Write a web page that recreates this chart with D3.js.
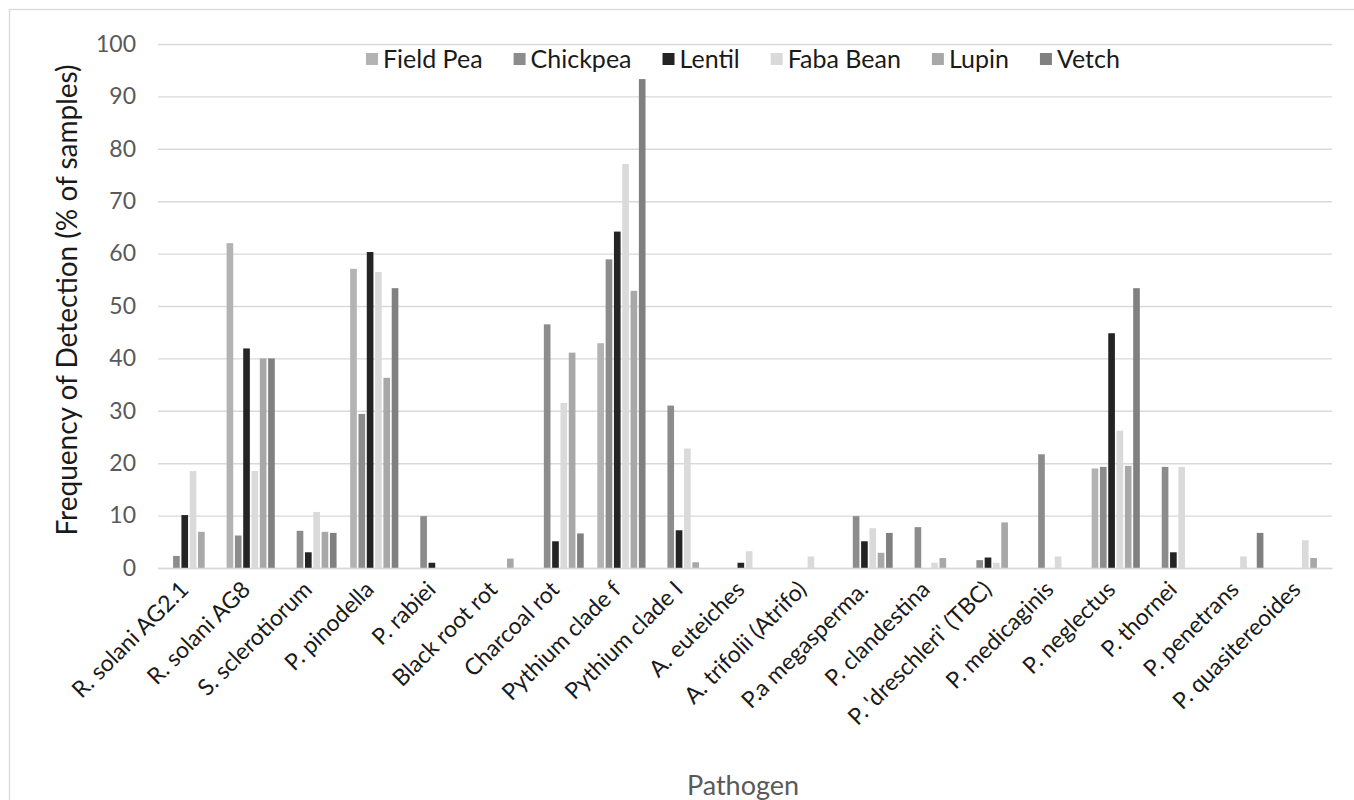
<!DOCTYPE html>
<html>
<head>
<meta charset="utf-8">
<script src="https://cdn.jsdelivr.net/npm/d3@7"></script>
<style>
  html, body { margin: 0; padding: 0; background: #ffffff; }
  svg { display: block; font-family: Lato, "Open Sans", sans-serif; }
</style>
</head>
<body>
<svg id="chart" width="1354" height="800"></svg>
<script>
// ---- data ----
const categories = [
  "R. solani AG2.1", "R. solani AG8", "S. sclerotiorum", "P. pinodella", "P. rabiei",
  "Black root rot", "Charcoal rot", "Pythium clade f", "Pythium clade I", "A. euteiches",
  "A. trifolii (Atrifo)", "P.a megasperma.", "P. clandestina", "P. 'dreschleri' (TBC)",
  "P. medicaginis", "P. neglectus", "P. thornei", "P. penetrans", "P. quasitereoides"
];
const seriesNames = ["Field Pea", "Chickpea", "Lentil", "Faba Bean", "Lupin", "Vetch"];
const fieldPea = [0, 62, 0, 57.1, 0, 0, 0, 42.9, 0, 0, 0, 0, 0, 0, 0, 19.0, 0, 0, 0];
const chickpea = [2.3, 6.2, 7.1, 29.4, 9.9, 0, 46.5, 58.9, 31.0, 0, 0, 9.9, 7.8, 1.5, 21.7, 19.3, 19.3, 0, 0];
const lentil   = [10.1, 41.9, 3.0, 60.3, 1.0, 0, 5.1, 64.2, 7.2, 1.0, 0, 5.1, 0, 2.0, 0, 44.8, 3.0, 0, 0];
const fabaBean = [18.5, 18.5, 10.7, 56.5, 0, 0, 31.5, 77.1, 22.8, 3.2, 2.2, 7.6, 1.0, 1.0, 2.2, 26.2, 19.3, 2.2, 5.3];
const lupin    = [6.9, 40.0, 6.9, 36.3, 0, 1.8, 41.1, 52.9, 1.1, 0, 0, 2.9, 1.9, 8.7, 0, 19.5, 0, 0, 1.9];
const vetch    = [0, 40.0, 6.7, 53.4, 0, 0, 6.6, 93.3, 0, 0, 0, 6.7, 0, 0, 0, 53.4, 0, 6.7, 0];
const yTicks = [0, 10, 20, 30, 40, 50, 60, 70, 80, 90, 100];
const seriesValues = [fieldPea, chickpea, lentil, fabaBean, lupin, vetch];
const seriesColors = ["#b3b3b3", "#8c8c8c", "#242424", "#dadada", "#a8a8a8", "#808080"];

// ---- layout ----
const svg = d3.select("#chart");
const plot = { left: 158, right: 1332, top: 44, bottom: 568 };

// chart border
svg.append("rect")
  .attr("x", 9.5).attr("y", 9.5)
  .attr("width", 1400).attr("height", 900)
  .attr("fill", "#fff").attr("stroke", "#d9d9d9").attr("stroke-width", 1.3);

const y = d3.scaleLinear().domain([0, 100]).range([plot.bottom, plot.top]);
const x0 = d3.scaleBand().domain(categories).range([plot.left, plot.right])
  .paddingInner(0.22).paddingOuter(0.11);
const x1 = d3.scaleBand().domain(seriesNames).range([0, x0.bandwidth()]).paddingInner(0.2);
const color = d3.scaleOrdinal().domain(seriesNames).range(seriesColors);

// gridlines + y tick labels
const yAxis = d3.axisLeft(y).tickValues(yTicks)
  .tickSize(-(plot.right - plot.left)).tickPadding(22);
const gy = svg.append("g").attr("transform", `translate(${plot.left},0)`).call(yAxis);
gy.select(".domain").remove();
gy.selectAll(".tick line").attr("stroke", "#d9d9d9").attr("stroke-width", 1.4);
gy.selectAll(".tick text")
  .attr("fill", "#595959").attr("font-size", 23).attr("font-family", "Lato, sans-serif");

// bars
const rows = categories.map((c, i) => ({ cat: c, vals: seriesNames.map((s, j) => ({ s, v: seriesValues[j][i] })) }));
const groups = svg.append("g").selectAll("g").data(rows).join("g")
  .attr("transform", d => `translate(${x0(d.cat)},0)`);
groups.selectAll("rect").data(d => d.vals.filter(e => e.v > 0)).join("rect")
  .attr("x", d => x1(d.s))
  .attr("width", x1.bandwidth())
  .attr("y", d => y(d.v))
  .attr("height", d => y(0) - y(d.v))
  .attr("fill", d => color(d.s));

// x axis baseline
const xAxis = d3.axisBottom(x0).tickSize(0).tickPadding(0);
const gx = svg.append("g").attr("transform", `translate(0,${plot.bottom})`).call(xAxis);
gx.select(".domain").attr("stroke", "#d9d9d9").attr("stroke-width", 1.4);
gx.selectAll(".tick text")
  .attr("text-anchor", "end")
  .attr("fill", "#1a1a1a")
  .attr("font-size", 23)
  .attr("font-family", "Lato, sans-serif")
  .attr("dy", null).attr("y", null)
  .attr("transform", "translate(1,23) rotate(-45)");

// axis titles
svg.append("text")
  .attr("transform", "translate(77,300) rotate(-90)")
  .attr("text-anchor", "middle")
  .attr("fill", "#1a1a1a").attr("font-size", 28)
  .text("Frequency of Detection (% of samples)");
svg.append("text")
  .attr("x", 743).attr("y", 795)
  .attr("text-anchor", "middle")
  .attr("fill", "#595959").attr("font-size", 27)
  .text("Pathogen");

// legend
const legend = svg.append("g").attr("transform", "translate(366,59)");
let lx = 0;
seriesNames.forEach((s, i) => {
  const g = legend.append("g").attr("transform", `translate(${lx},0)`);
  g.append("rect").attr("x", 0).attr("y", -6).attr("width", 12).attr("height", 12).attr("fill", color(s));
  const t = g.append("text").attr("x", 17).attr("y", 0).attr("dy", "0.35em")
    .attr("fill", "#1a1a1a").attr("font-size", 25).text(s);
  lx += 17 + t.node().getComputedTextLength() + 31;
});
</script>
</body>
</html>
